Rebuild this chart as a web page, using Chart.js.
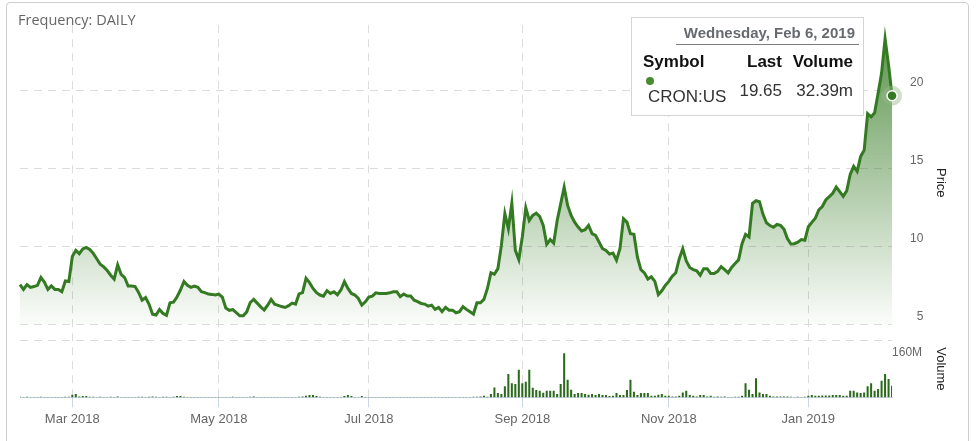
<!DOCTYPE html>
<html>
<head>
<meta charset="utf-8">
<script src="https://cdn.jsdelivr.net/npm/chart.js@4.4.1/dist/chart.umd.min.js"></script>
<style>
  html, body { margin: 0; padding: 0; background: #fff; }
  body { width: 977px; height: 441px; position: relative; overflow: hidden; font-family: "Liberation Sans", Arial, sans-serif; }
  #frame { position: absolute; left: 6px; top: 2px; width: 961px; height: 480px; border: 1px solid #cfcfcf; border-radius: 4px; }
  #wrap { position: absolute; left: 0; top: 0; width: 977px; height: 441px; }
  #freq { position: absolute; left: 18px; top: 10px; font: 14.5px "Open Sans", sans-serif; color: #666; line-height: 20px; }
  #tip { position: absolute; left: 631px; top: 17px; width: 233px; height: 99px; box-sizing: border-box;
         border: 1px solid #d4d4d4; background: rgba(255,255,255,0.96); }
  #tip div { position: absolute; white-space: nowrap; }
  #tipDate { right: 8px; top: 6px; font-weight: bold; font-size: 15px; line-height: 17px; color: #676b70; }
  #tipRule { right: 4px; top: 26px; width: 183px; height: 1px; background: #7d7d7d; }
  .hd { top: 34px; font-weight: bold; font-size: 17px; line-height: 20px; color: #111; }
  .vl { font-size: 17px; line-height: 20px; color: #333; }
  #tipDot { left: 14px; top: 59px; width: 8px; height: 8px; border-radius: 50%; background: #4a8a30; }
</style>
</head>
<body>
<div id="frame"></div>
<div id="wrap"><canvas id="chart"></canvas></div>
<div id="freq">Frequency: DAILY</div>
<div id="tip">
  <div id="tipDate"></div>
  <div id="tipRule"></div>
  <div class="hd" style="left:11px">Symbol</div>
  <div class="hd" style="right:81px">Last</div>
  <div class="hd" style="right:10px">Volume</div>
  <div id="tipDot"></div>
  <div class="vl" id="tipSym" style="left:16px; top:69px"></div>
  <div class="vl" id="tipLast" style="right:81px; top:63px"></div>
  <div class="vl" id="tipVol" style="right:10px; top:63px"></div>
</div>
<script>
const symbol = "CRON:US";
const firstDay = "2018-02-07";
const lastDay = "2019-02-06";
const holidays = ["2018-02-19", "2018-03-30", "2018-05-28", "2018-07-04", "2018-09-03",
                  "2018-11-22", "2018-12-05", "2018-12-25", "2019-01-01", "2019-01-21"];
const monthNames = ["Jan", "Feb", "Mar", "Apr", "May", "Jun", "Jul", "Aug", "Sep", "Oct", "Nov", "Dec"];
const labelMonths = [0, 2, 4, 6, 8, 10];   // Jan, Mar, May, Jul, Sep, Nov
const priceTicks = [5, 10, 15, 20];
const volumeTicks = [160];

// daily close, USD
const prices = [
  7.55, 7.24, 7.55, 7.37, 7.42, 7.5, 8.0, 7.7, 7.24, 7.46,
  7.24, 7.24, 7.09, 7.78, 7.74, 9.35, 9.74, 9.53, 9.83, 9.93,
  9.8, 9.55, 9.2, 8.85, 8.68, 8.45, 8.15, 7.9, 8.81, 8.2,
  8.0, 7.46, 7.46, 7.42, 7.05, 6.55, 6.72, 6.29, 5.65, 5.6,
  5.95, 5.7, 5.58, 6.38, 6.42, 6.75, 7.2, 7.75, 7.5, 7.37,
  7.45, 7.37, 7.09, 7.03, 6.94, 6.92, 6.88, 6.94, 6.75, 6.05,
  5.9, 5.95, 5.75, 5.55, 5.55, 5.8, 6.4, 6.6, 6.36, 6.12,
  5.92, 6.23, 6.6, 6.29, 6.22, 6.14, 6.08, 6.2, 6.36, 6.3,
  6.95, 7.03, 7.95, 7.67, 7.3, 7.03, 6.88, 6.81, 7.16, 6.98,
  7.09, 6.9, 7.2, 7.74, 7.3, 6.98, 6.88, 6.66, 6.23, 6.44,
  6.75, 6.81, 7.02, 6.98, 6.98, 6.98, 7.02, 7.09, 7.09, 6.77,
  6.94, 6.81, 6.81, 6.55, 6.45, 6.34, 6.3, 6.17, 6.23, 5.96,
  6.09, 5.81, 6.09, 5.91, 5.91, 5.74, 5.81, 6.13, 5.96, 5.81,
  5.66, 6.38, 6.38, 6.6, 7.3, 8.3, 8.21, 8.57, 10.06, 12.09,
  11.13, 12.77, 9.74, 9.15, 10.6, 12.47, 11.66, 11.98, 12.13, 11.91,
  11.34, 10.13, 10.43, 10.21, 11.66, 12.72, 13.79, 12.62, 11.98, 11.55,
  11.23, 10.98, 11.06, 11.34, 10.81, 10.7, 10.28, 9.85, 9.74, 9.5,
  9.57, 9.11, 9.85, 11.77, 11.55, 10.81, 10.77, 9.3, 8.5, 8.3,
  7.9, 8.05, 7.75, 6.9, 7.15, 7.5, 7.75, 8.08, 8.3, 9.21,
  9.85, 9.06, 8.64, 8.51, 8.43, 8.15, 8.57, 8.57, 8.26, 8.26,
  8.4, 8.7, 8.5, 8.3, 8.65, 8.9, 9.13, 10.17, 10.77, 10.6,
  12.75, 12.92, 12.86, 12.05, 11.51, 11.33, 11.22, 11.4, 11.35, 11.1,
  10.5, 10.15, 10.17, 10.27, 10.43, 10.39, 11.25, 11.53, 11.8, 12.33,
  12.55, 12.97, 13.18, 13.4, 13.8, 13.5, 13.2, 13.55, 14.6, 15.12,
  14.8, 15.76, 16.15, 18.5, 18.3, 18.55, 19.8, 21.1, 23.3, 21.6, 19.65
];

// daily volume, millions of shares
const volumes = [
  1.8, 1.2, 1.5, 1.1, 0.9, 1.3, 2.1, 1.4, 1.0, 1.2,
  0.9, 1.1, 1.3, 2.0, 1.6, 7.5, 9.4, 2.5, 3.7, 3.7,
  2.0, 1.6, 1.4, 1.8, 1.2, 1.0, 1.5, 1.3, 2.8, 1.4,
  1.2, 1.0, 0.9, 1.1, 1.5, 1.8, 1.3, 1.6, 2.2, 1.7,
  1.3, 1.5, 1.9, 1.4, 1.6, 3.7, 3.7, 1.5, 1.2, 1.0,
  0.9, 1.1, 0.8, 1.0, 1.2, 0.9, 1.1, 1.3, 1.0, 1.4,
  1.2, 1.5, 1.1, 1.3, 0.9, 1.0, 1.6, 2.8, 1.2, 1.1,
  1.0, 1.3, 1.2, 0.9, 1.1, 1.0, 1.2, 1.4, 1.3, 1.1,
  1.8, 2.8, 4.5, 6.5, 6.5, 4.0, 1.6, 1.3, 1.2, 1.0,
  1.1, 1.4, 1.2, 3.7, 6.5, 3.7, 1.3, 1.1, 3.7, 1.2,
  0.9, 1.0, 1.2, 0.8, 1.1, 0.9, 1.0, 1.3, 1.1, 0.9,
  1.0, 1.2, 0.9, 1.1, 0.8, 1.0, 1.2, 1.1, 0.9, 1.0,
  1.1, 0.9, 1.2, 1.0, 0.8, 1.1, 1.3, 1.0, 1.2, 1.4,
  1.6, 1.9, 2.2, 4.7, 2.0, 9.4, 28, 12, 9.4, 31,
  65.5, 40, 37.4, 77.7, 40, 44, 77.7, 27, 20.6, 18.7,
  13.1, 18.7, 18.7, 18.7, 9.4, 37.4, 123.6, 49.6, 21.5, 9.4,
  12, 12, 9.4, 7.5, 9.4, 6.5, 9.4, 6.5, 6.5, 3.7,
  4.7, 12, 6.5, 6.5, 20.6, 49.6, 16, 6.5, 12, 12,
  12, 4.7, 4.7, 7.5, 9.4, 4.7, 4.7, 2.8, 2.8, 4.7,
  14, 18.7, 6.5, 4.7, 2.8, 6.5, 6.5, 2.8, 4.7, 1.8,
  2.8, 1.5, 2.8, 1.4, 1.2, 1.5, 1.8, 4.7, 40, 21.5,
  9.4, 53.4, 14, 9.4, 9.4, 4.7, 2.8, 2.8, 2.8, 2.8,
  2.8, 1.5, 1.2, 1.8, 1.3, 1.6, 4.7, 6.5, 4.7, 4.7,
  5.5, 5.5, 5.5, 6.5, 6.5, 6.5, 4.7, 4.7, 18.7, 18.7,
  14, 12, 14, 31, 40, 18.7, 23.4, 46.8, 65.5, 51.5, 32.39
];

/* TRADING DAYS */
function tradingDays(from, to) {
  let out = [];
  let d = new Date(from + "T00:00:00Z");
  const end = new Date(to + "T00:00:00Z");
  while (d <= end) {
    let iso = d.toISOString().slice(0, 10);
    let wd = d.getUTCDay();
    if (wd !== 0 && wd !== 6 && !holidays.includes(iso)) out.push(iso);
    d.setUTCDate(d.getUTCDate() + 1);
  }
  return out;
}
const dates = tradingDays(firstDay, lastDay);

function monthLabel(i) {
  if (i === 0) return null;
  let m = parseInt(dates[i].slice(5, 7)) - 1;
  let prev = parseInt(dates[i - 1].slice(5, 7)) - 1;
  if (m === prev || !labelMonths.includes(m)) return null;
  return monthNames[m] + " " + dates[i].slice(0, 4);
}

/* TOOLTIP BOX */
const last = prices.length - 1;
document.getElementById("tipDate").innerText = new Date(dates[last] + "T12:00:00Z")
  .toLocaleDateString("en-US", { timeZone: "UTC", weekday: "long", month: "short", day: "numeric", year: "numeric" });
document.getElementById("tipSym").innerText = symbol;
document.getElementById("tipLast").innerText = prices[last].toFixed(2);
document.getElementById("tipVol").innerText = volumes[last].toFixed(2) + "m";

/* LAST POINT HALO */
const lastPoint = {
  id: "lastPoint",
  afterDatasetsDraw(chart) {
    let meta = chart.getDatasetMeta(0);
    let pt = meta.data[meta.data.length - 1];
    let c = chart.ctx;
    c.save();
    c.beginPath();
    c.arc(pt.x, pt.y, 10, 0, Math.PI * 2);
    c.fillStyle = "rgba(150,185,135,0.45)";
    c.fill();
    c.beginPath();
    c.arc(pt.x, pt.y, 5, 0, Math.PI * 2);
    c.fillStyle = "#347a22";
    c.fill();
    c.lineWidth = 1.5;
    c.strokeStyle = "#fff";
    c.stroke();
    c.restore();
  }
};

Chart.defaults.font.family = "'Liberation Sans', Arial, sans-serif";

let chart = new Chart(document.getElementById("chart"), {
  data: {
    labels: dates,
    datasets: [{
      type: "line",
      data: prices,
      yAxisID: "y",
      borderColor: "#347a22",
      borderWidth: 3,
      pointRadius: 0,
      tension: 0,
      fill: { value: 5 },
      backgroundColor: function (context) {
        let area = context.chart.chartArea;
        if (!area) return "rgba(52,122,34,0.3)";
        let bottom = context.chart.scales.y.getPixelForValue(5);
        let g = context.chart.ctx.createLinearGradient(0, area.top, 0, bottom);
        g.addColorStop(0, "rgba(52,122,34,0.82)");
        g.addColorStop(1, "rgba(52,122,34,0.02)");
        return g;
      }
    }, {
      type: "bar",
      data: volumes,
      yAxisID: "vol",
      backgroundColor: "#2b6a1c",
      barPercentage: 0.65,
      categoryPercentage: 0.9
    }]
  },
  options: {
    responsive: true,
    maintainAspectRatio: false,
    animation: false,
    layout: { padding: { top: 25, left: 20, right: 25, bottom: 10 } },
    plugins: { legend: { display: false }, tooltip: { enabled: false } },
    scales: {
      x: {
        type: "category",
        offset: false,
        grid: { offset: false, color: "#dcdcdc", tickColor: "#ccd6eb", tickLength: 10, tickBorderDash: [] },
        border: { color: "#ccd6eb", dash: [8, 6] },
        ticks: {
          autoSkip: false, maxRotation: 0, padding: 4, color: "#666", font: { size: 13 },
          callback: (v, i) => monthLabel(i)
        }
      },
      y: {
        position: "right", stack: "right", stackWeight: 315,
        min: 3.974, max: 24.167,
        afterBuildTicks: axis => { axis.ticks = priceTicks.map(v => ({ value: v })); },
        grid: { color: "#dcdcdc", drawTicks: false },
        border: { display: false, dash: [8, 6] },
        ticks: { color: "#666", font: { size: 12 }, padding: 18, crossAlign: "near", labelOffset: -8,
                 callback: v => (v < 10 ? "\u2007" : "") + v },
        title: { display: true, text: "Price", color: "#222", font: { size: 13 }, padding: { top: 4, bottom: -9 } }
      },
      vol: {
        position: "right", stack: "right", stackWeight: 57,
        min: 0, max: 160,
        afterBuildTicks: axis => { axis.ticks = volumeTicks.map(v => ({ value: v })); },
        grid: { color: "#dcdcdc", drawTicks: false },
        border: { display: false, dash: [8, 6] },
        ticks: { color: "#666", font: { size: 12 }, padding: 0, crossAlign: "near", labelOffset: 12,
                 callback: v => v + "M" },
        title: { display: true, text: "Volume", color: "#222", font: { size: 13 }, padding: { top: 4, bottom: -9 } }
      }
    }
  },
  plugins: [lastPoint]
});
</script>
</body>
</html>
